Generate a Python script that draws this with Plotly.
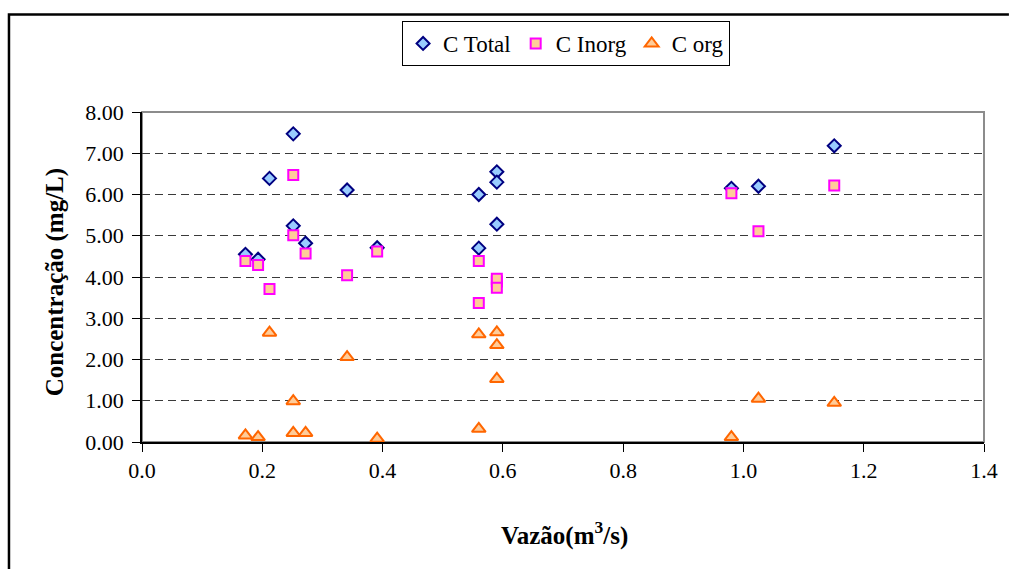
import plotly.graph_objects as go

# Vazão (m3/s) e concentrações de carbono (mg/L)
vazao = [0.172, 0.193, 0.212, 0.2515, 0.2515, 0.272, 0.341, 0.391,
         0.560, 0.560, 0.590, 0.590, 0.590, 0.980, 1.025, 1.151]
c_total = [4.55, 4.43, 6.39, 7.47, 5.24, 4.82, 6.11, 4.71,
           6.00, 4.70, 6.55, 6.30, 5.28, 6.15, 6.20, 7.18]
c_inorg = [4.39, 4.29, 3.71, 6.47, 5.01, 4.57, 4.04, 4.62,
           3.37, 4.39, 3.89, 3.96, 3.74, 6.03, 5.11, 6.22]
c_org = [0.16, 0.12, 2.65, 0.99, 0.22, 0.22, 2.06, 0.08,
         2.61, 0.32, 2.66, 2.35, 1.53, 0.12, 1.05, 0.95]

x_ticks = [0.0, 0.2, 0.4, 0.6, 0.8, 1.0, 1.2, 1.4]
y_ticks = [0, 1, 2, 3, 4, 5, 6, 7, 8]

FONT = "Liberation Serif, Times New Roman, serif"

fig = go.Figure()
fig.add_trace(go.Scatter(
    x=vazao, y=c_total, mode="markers", name="C Total",
    marker=dict(symbol="diamond", size=10, color="#99CCFF",
                line=dict(color="#000080", width=2)),
))
fig.add_trace(go.Scatter(
    x=vazao, y=c_inorg, mode="markers", name="C Inorg",
    marker=dict(symbol="square", size=10, color="#FFCC99",
                line=dict(color="#FF00FF", width=2)),
))
fig.add_trace(go.Scatter(
    x=vazao, y=c_org, mode="markers", name="C org",
    marker=dict(symbol="triangle-up", size=12, color="#FFCC99",
                line=dict(color="#FF6600", width=2)),
))

W, H = 1010, 569
L, R, T, B = 142, 23, 112, 127
pw, ph = W - L - R, H - T - B


def px(xp):
    return (xp - L) / pw


def py(yp):
    return (H - B - yp) / ph


fig.update_layout(
    width=W, height=H,
    margin=dict(l=L, r=R, t=T, b=B),
    paper_bgcolor="white", plot_bgcolor="white",
    font=dict(family=FONT, size=22, color="black"),
    showlegend=True,
    legend=dict(
        orientation="h", x=px(403), y=py(21), xanchor="left", yanchor="top",
        bgcolor="white", bordercolor="black", borderwidth=1,
        font=dict(family=FONT, size=23, color="black"),
        itemwidth=30, traceorder="normal",
    ),
    xaxis=dict(
        range=[0, 1.4], tickvals=x_ticks, tickformat=".1f",
        showgrid=False, zeroline=False,
        showline=True, linecolor="black", linewidth=1.5,
        ticks="outside", ticklen=8, tickcolor="black", tickwidth=1,
        ticklabelstandoff=0,
        tickfont=dict(family=FONT, size=22, color="black"),
    ),
    yaxis=dict(
        range=[0, 8], tickvals=y_ticks, tickformat=".2f",
        showgrid=True, gridcolor="#3a3a3a", gridwidth=1, griddash="8px,5px",
        zeroline=False,
        showline=True, linecolor="black", linewidth=1.5,
        ticks="outside", ticklen=8, tickcolor="black", tickwidth=1,
        ticklabelstandoff=4,
        tickfont=dict(family=FONT, size=22, color="black"),
    ),
    shapes=[
        # moldura cinza da área de plotagem
        dict(type="rect", xref="paper", yref="paper", x0=0, y0=0, x1=1, y1=1,
             line=dict(color="#8c8c8c", width=2), layer="below"),
        # moldura externa do gráfico
        dict(type="path", xref="paper", yref="paper",
             path=f"M {px(1012)},{py(14.5)} L {px(8.5)},{py(14.5)} L {px(8.5)},{py(575)}",
             line=dict(color="black", width=2.5), layer="above"),
    ],
    annotations=[
        dict(text="<b>Concentração (mg/L)</b>", xref="paper", yref="paper",
             x=px(55), y=py(282), textangle=-90, showarrow=False,
             xanchor="center", yanchor="middle",
             font=dict(family=FONT, size=25, color="black")),
        dict(text="<b>Vazão(m<sup>3</sup>/s)</b>", xref="paper", yref="paper",
             x=px(566), y=py(533), showarrow=False,
             xanchor="center", yanchor="middle",
             font=dict(family=FONT, size=25, color="black")),
    ],
)

fig.write_html("out.html")
